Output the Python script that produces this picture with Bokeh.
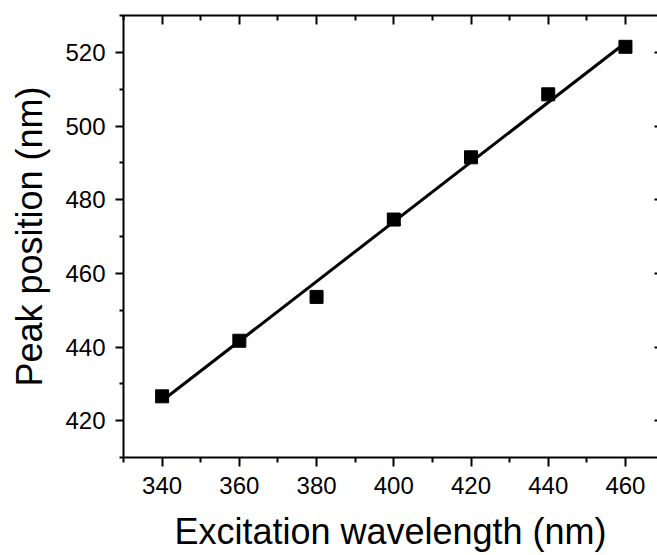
import numpy as np
from bokeh.plotting import figure
from bokeh.models import LinearAxis, Range1d, FixedTicker
from bokeh.embed import file_html
from bokeh.resources import INLINE

# Data
excitation = [340, 360, 380, 400, 420, 440, 460]
peak = [426.6, 441.7, 453.6, 474.6, 491.5, 508.6, 521.5]

# Linear fit line (end points)
fit_x = [340, 460]
fit_y = [425.4, 522.6]

x_ticks = [340, 360, 380, 400, 420, 440, 460]
x_minor = [330, 350, 370, 390, 410, 430, 450]
y_ticks = [420, 440, 460, 480, 500, 520]
y_minor = [410, 430, 450, 470, 490, 510, 530]

FONT = "Liberation Sans"

p = figure(width=657, height=555,
           x_range=Range1d(330, 468.3), y_range=Range1d(410, 530),
           output_backend="svg", toolbar_location=None,
           x_axis_location=None, y_axis_location=None,
           min_border_left=123, min_border_top=15, min_border_bottom=98,
           min_border_right=0)
p.outline_line_color = None
p.background_fill_color = "white"
p.border_fill_color = "white"
p.xgrid.visible = False
p.ygrid.visible = False


def style(ax):
    ax.axis_line_width = 2
    ax.axis_line_color = "black"
    ax.major_tick_line_width = 2
    ax.minor_tick_line_width = 2
    ax.major_tick_line_color = "black"
    ax.minor_tick_line_color = "black"
    ax.major_label_text_font = FONT
    ax.major_label_text_font_size = "24px"
    ax.major_label_text_color = "black"
    ax.axis_label_text_font = FONT
    ax.axis_label_text_font_size = "36px"
    ax.axis_label_text_font_style = "normal"
    ax.axis_label_text_color = "black"


xb = LinearAxis(ticker=FixedTicker(ticks=x_ticks, minor_ticks=x_minor),
                axis_label="Excitation wavelength (nm)")
style(xb)
xb.major_tick_out = 9
xb.major_tick_in = 0
xb.minor_tick_out = 5
xb.minor_tick_in = 0
xb.major_label_standoff = 10
xb.axis_label_standoff = 14
p.add_layout(xb, "below")

yl = LinearAxis(ticker=FixedTicker(ticks=y_ticks, minor_ticks=y_minor),
                axis_label="Peak position (nm)")
style(yl)
yl.major_tick_out = 8
yl.major_tick_in = 0
yl.minor_tick_out = 4
yl.minor_tick_in = 0
yl.major_label_standoff = 10
yl.axis_label_standoff = 12
p.add_layout(yl, "left")

xt = LinearAxis(ticker=FixedTicker(ticks=x_ticks, minor_ticks=x_minor))
style(xt)
xt.major_tick_out = 0
xt.major_tick_in = 9
xt.minor_tick_out = 0
xt.minor_tick_in = 5
xt.major_label_overrides = {t: "" for t in x_ticks}
xt.major_label_standoff = 0
p.add_layout(xt, "above")

yr = LinearAxis(ticker=FixedTicker(ticks=y_ticks, minor_ticks=[]))
style(yr)
yr.axis_line_alpha = 0
yr.major_tick_out = 0
yr.major_tick_in = 3
yr.minor_tick_out = 0
yr.minor_tick_in = 0
yr.major_label_overrides = {t: "" for t in y_ticks}
yr.major_label_standoff = 0
p.add_layout(yr, "right")

p.line(fit_x, fit_y, line_width=3, line_color="black")
p.scatter(excitation, peak, marker="square", size=13,
          fill_color="black", line_color="black")

open("out.html", "w").write(file_html(p, INLINE))
